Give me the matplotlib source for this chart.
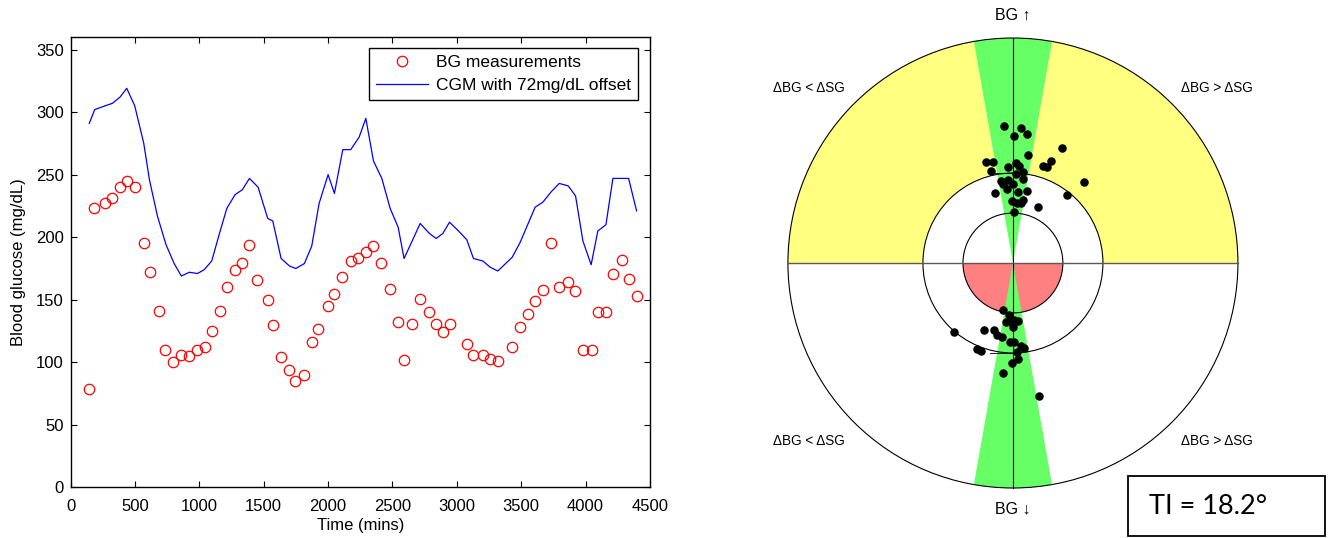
import matplotlib.pyplot as plt
from matplotlib.patches import Wedge, Circle, Rectangle
from matplotlib.ticker import MultipleLocator

# BG measurements (red circles)
bg_time = [143, 182, 267, 319, 381, 436, 498, 568, 619, 689, 733, 798, 858, 922, 985,
           1042, 1096, 1161, 1213, 1275, 1334, 1386, 1451, 1531, 1575, 1635, 1700, 1746,
           1814, 1878, 1925, 2000, 2049, 2111, 2174, 2236, 2293, 2352, 2414, 2477, 2539,
           2590, 2653, 2715, 2787, 2839, 2891, 2943, 3077, 3129, 3202, 3259, 3318, 3430,
           3492, 3554, 3608, 3668, 3730, 3795, 3865, 3917, 3979, 4046, 4095, 4160, 4209,
           4282, 4336, 4398]
bg_value = [79, 223, 227, 231, 240, 245, 240, 195, 172, 141, 110, 100, 106, 105, 110,
            112, 125, 141, 160, 174, 179, 194, 166, 150, 130, 104, 94, 85,
            90, 116, 127, 145, 155, 168, 181, 183, 188, 193, 179, 159, 132,
            102, 131, 151, 140, 131, 124, 131, 115, 106, 106, 103, 101, 112,
            128, 139, 149, 158, 195, 160, 164, 157, 110, 110, 140, 140, 171,
            182, 167, 153]

# CGM trace with offset (blue line)
cgm_time = [145, 187, 267, 324, 384, 436, 498, 568, 612, 674, 741, 804, 860, 922, 985,
            1037, 1096, 1156, 1213, 1277, 1334, 1389, 1456, 1531, 1570, 1635, 1700, 1749,
            1816, 1873, 1930, 2000, 2049, 2114, 2176, 2241, 2293, 2352, 2417, 2482, 2544,
            2590, 2653, 2715, 2787, 2839, 2891, 2943, 3013, 3077, 3129, 3202, 3259, 3318,
            3430, 3492, 3554, 3608, 3668, 3730, 3795, 3865, 3922, 3979, 4043, 4095, 4158,
            4212, 4282, 4334, 4396]
cgm_value = [291, 302, 305, 307, 312, 319, 305, 275, 246, 217, 194, 179, 169, 172, 171,
             174, 181, 203, 223, 234, 238, 247, 240, 215, 213, 183, 177, 175,
             179, 193, 227, 250, 235, 270, 270, 280, 295, 261, 247, 223, 208,
             183, 197, 211, 203, 199, 203, 212, 205, 198, 183, 181, 176, 173,
             184, 196, 211, 224, 228, 236, 243, 241, 233, 197, 178, 205, 210,
             247, 247, 247, 221]

# rate grid points (normalised to outer radius = 1)
up_x = [-0.039, 0.037, 0.003, 0.062, 0.216, 0.068, -0.121, -0.088, -0.098, -0.021,
        0.013, 0.025, 0.135, 0.150, 0.169, 0.046, 0.012, 0.043, -0.021, -0.043,
        0.001, -0.025, 0.317, -0.080, 0.024, 0.061, 0.240, -0.006, 0.043, 0.016,
        0.036, 0.110, 0.003, -0.053]
up_y = [0.609, 0.599, 0.563, 0.573, 0.510, 0.480, 0.449, 0.449, 0.408, 0.428,
        0.443, 0.432, 0.432, 0.425, 0.455, 0.406, 0.396, 0.372, 0.369, 0.351,
        0.351, 0.330, 0.360, 0.310, 0.317, 0.320, 0.302, 0.277, 0.280, 0.268,
        0.265, 0.248, 0.225, 0.364]
down_x = [-0.045, -0.018, -0.032, -0.013, 0.006, 0.022, 0.000, -0.260, -0.128, -0.085,
          -0.069, -0.050, -0.013, 0.006, 0.050, -0.160, -0.140, 0.018, 0.022, -0.004,
          -0.044, 0.117, 0.036]
down_y = [-0.209, -0.231, -0.261, -0.256, -0.253, -0.258, -0.286, -0.308, -0.298, -0.298,
          -0.320, -0.330, -0.351, -0.351, -0.376, -0.384, -0.391, -0.394, -0.428, -0.446,
          -0.488, -0.590, -0.370]

r_outer = 1.0
r_mid = 0.40
r_inner = 0.222
half_angle = 10.0  # degrees either side of vertical
ti_value = 18.2


def plot_timeseries(fig):
    ax = fig.add_axes([0.0531, 0.0939, 0.4356, 0.8373])
    ax.plot(bg_time, bg_value, "o", mfc="none", mec="red", ms=7.5, mew=0.9,
            label="BG measurements")
    ax.plot(cgm_time, cgm_value, color="blue", lw=0.9, label="CGM with 72mg/dL offset")

    ax.set_xlim(0, 4500)
    ax.set_ylim(0, 360)
    ax.xaxis.set_major_locator(MultipleLocator(500))
    ax.yaxis.set_major_locator(MultipleLocator(50))
    ax.tick_params(direction="in", top=True, right=True, length=4, labelsize=12)
    ax.tick_params(axis="x", pad=8)
    ax.tick_params(axis="y", pad=5)
    for s in ax.spines.values():
        s.set_linewidth(1.0)

    ax.set_xlabel("Time (mins)", fontsize=12, labelpad=3)
    ax.set_ylabel("Blood glucose (mg/dL)", fontsize=12, labelpad=7)

    leg = ax.legend(loc="upper left", bbox_to_anchor=(0.515, 0.9756), borderaxespad=0,
                    fontsize=12.5, fancybox=False, edgecolor="black", framealpha=1,
                    handlelength=3.0, handletextpad=0.45, borderpad=0.4,
                    labelspacing=0.45)
    leg.get_frame().set_linewidth(1.0)


def plot_grid(fig):
    ax = fig.add_axes([0.5586, 0.0093, 0.4060, 1.0037])
    ax.set_xlim(-1.2, 1.2)
    ax.set_ylim(-1.2, 1.2)
    ax.axis("off")

    yellow = "#ffff80"
    green = "#66ff66"
    red = "#ff8080"

    # yellow upper annulus either side of the green wedge
    ax.add_patch(Wedge((0, 0), r_outer, 0, 90 - half_angle, width=r_outer - r_mid,
                       fc=yellow, ec="none"))
    ax.add_patch(Wedge((0, 0), r_outer, 90 + half_angle, 180, width=r_outer - r_mid,
                       fc=yellow, ec="none"))
    # red lower inner half disc
    ax.add_patch(Wedge((0, 0), r_inner, 180, 360, fc=red, ec="none"))
    # green wedges
    ax.add_patch(Wedge((0, 0), r_outer, 90 - half_angle, 90 + half_angle, fc=green, ec="none"))
    ax.add_patch(Wedge((0, 0), r_outer, 270 - half_angle, 270 + half_angle, fc=green, ec="none"))

    for r in [r_outer, r_mid, r_inner]:
        ax.add_patch(Circle((0, 0), r, fc="none", ec="black", lw=0.8))
    ax.plot([0, 0], [-r_outer, r_outer], color="black", lw=0.8)
    ax.plot([-r_outer, r_outer], [0, 0], color="0.35", lw=1.0)
    # small marks on the axes
    ax.plot([-0.1, 0], [r_mid, r_mid], color="black", lw=0.6)
    ax.plot([-0.1, 0], [-r_mid, -r_mid], color="black", lw=0.6)

    ax.scatter(up_x, up_y, s=26, c="black", zorder=5)
    ax.scatter(down_x, down_y, s=26, c="black", zorder=5)

    ax.text(0, 1.1, "BG \u2191", ha="center", va="center", fontsize=11.5)
    ax.text(0, -1.095, "BG \u2193", ha="center", va="center", fontsize=11.5)
    lab = dict(ha="center", va="center", fontsize=9.8)
    ax.text(-0.905, 0.78, "\u0394BG < \u0394SG", **lab)
    ax.text(0.905, 0.78, "\u0394BG > \u0394SG", **lab)
    ax.text(-0.905, -0.79, "\u0394BG < \u0394SG", **lab)
    ax.text(0.905, -0.79, "\u0394BG > \u0394SG", **lab)


def main():
    plt.rcParams["font.family"] = ["Liberation Sans", "DejaVu Sans"]
    fig = plt.figure(figsize=(13.3, 5.38), dpi=100)

    plot_timeseries(fig)
    plot_grid(fig)

    # TI box in the bottom right corner
    fig.add_artist(Rectangle((1128 / 1330, 2 / 538), 197 / 1330, 60 / 538,
                             transform=fig.transFigure, fc="white", ec="black", lw=1.3))
    fig.text(1149 / 1330, 32 / 538, f"TI = {ti_value}\u00b0", fontsize=19.5,
             family=["Lato", "DejaVu Sans"], ha="left", va="center")

    fig.savefig("out.png", dpi=100)


if __name__ == "__main__":
    main()
